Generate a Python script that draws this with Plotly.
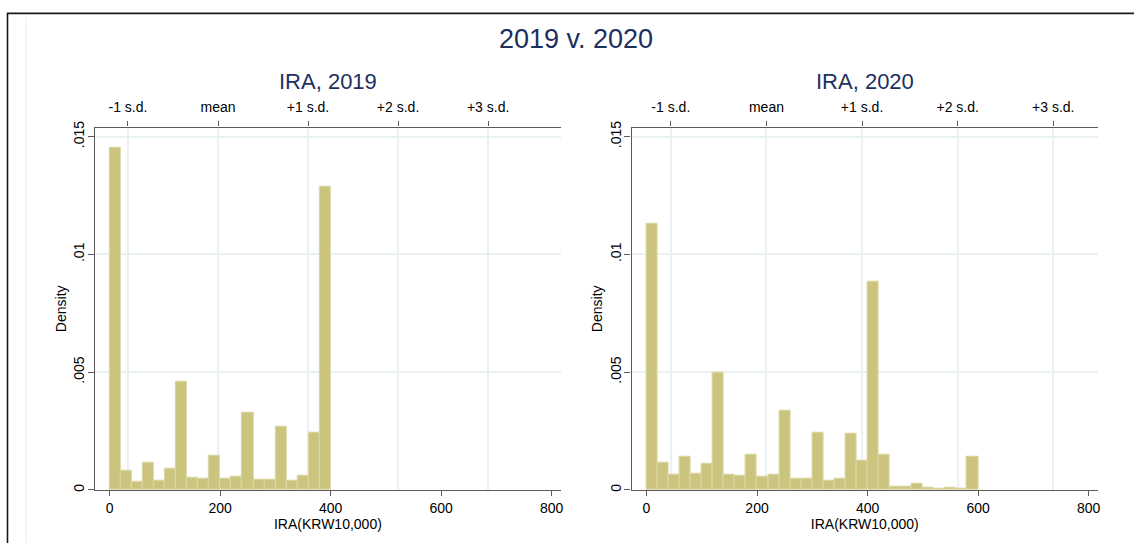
import plotly.graph_objects as go

# Histogram bins: width 20, starting at 0
bin_width = 20
density_2019 = [0.01455, 0.00082, 0.00036, 0.00116, 0.00041, 0.00091, 0.00460, 0.00053,
                0.00049, 0.00145, 0.00048, 0.00057, 0.00328, 0.00045, 0.00045, 0.00267,
                0.00041, 0.00062, 0.00242, 0.01286]
density_2020 = [0.01130, 0.00116, 0.00066, 0.00140, 0.00070, 0.00112, 0.00496, 0.00066,
                0.00062, 0.00149, 0.00057, 0.00066, 0.00337, 0.00049, 0.00049, 0.00244,
                0.00041, 0.00049, 0.00237, 0.00123, 0.00886, 0.00148, 0.00015, 0.00014,
                0.00028, 0.00011, 0.00007, 0.00010, 0.00004, 0.00140]

# Summary statistics used for the s.d. axis on top
mean_2019, sd_2019 = 196, 163
mean_2020, sd_2020 = 217, 173
sd_labels = ["-1 s.d.", "mean", "+1 s.d.", "+2 s.d.", "+3 s.d."]
sd_steps = [-1, 0, 1, 2, 3]

x_ticks = [0, 200, 400, 600, 800]
y_ticks = [0, 0.005, 0.01, 0.015]
y_ticktext = ["0", ".005", ".01", ".015"]

titles = ["IRA, 2019", "IRA, 2020"]
x_title = "IRA(KRW10,000)"

W, H = 1136, 545
FONT = "Liberation Sans, Arial, sans-serif"
BAR = "#cbc47f"
BAR_EDGE = "#dcd7a3"
GRID = "#e9f1f2"
AXIS = "#5a5a5a"
NAVY = "#1c2f5e"

x_range = [-27, 817]
y_range = [0, 0.01538]

# panel domains in pixels (left, right), shared vertical extent
panels_px = [(95, 562), (632.7, 1100)]
y_top_px, y_bot_px = 122.7, 491


def px_x(v):
    return v / W


def px_y(v):
    return 1 - v / H


fig = go.Figure()

datasets = [(density_2019, mean_2019, sd_2019), (density_2020, mean_2020, sd_2020)]
for i, (dens, mu, sd) in enumerate(datasets):
    n = i + 1
    xa = "x" if n == 1 else f"x{n}"
    ya = "y" if n == 1 else f"y{n}"
    centers = [bin_width * k + bin_width / 2 for k in range(len(dens))]
    fig.add_trace(go.Bar(
        x=centers, y=dens, width=bin_width,
        marker=dict(color=BAR, line=dict(color=BAR_EDGE, width=1)),
        xaxis=xa, yaxis=ya, showlegend=False, hoverinfo="x+y",
    ))
    # invisible trace so the top s.d. axis is drawn
    top = f"x{n + 2}"
    fig.add_trace(go.Scatter(
        x=[mu], y=[0], mode="markers", marker=dict(opacity=0),
        xaxis=top, yaxis=ya, showlegend=False, hoverinfo="skip",
    ))

    left, right = panels_px[i]
    dom_x = [px_x(left), px_x(right)]
    dom_y = [px_y(y_bot_px), px_y(y_top_px)]
    sd_pos = [mu + s * sd for s in sd_steps]

    bottom_key = "xaxis" if n == 1 else f"xaxis{n}"
    y_key = "yaxis" if n == 1 else f"yaxis{n}"
    top_key = f"xaxis{n + 2}"

    fig.layout[bottom_key] = dict(
        domain=dom_x, range=x_range, anchor=ya,
        tickvals=x_ticks, ticks="outside", ticklen=5, tickwidth=1.2, tickcolor=AXIS,
        showline=True, linecolor=AXIS, linewidth=1.4, showgrid=False, zeroline=False,
        tickfont=dict(size=14, color="black", family=FONT),
        title=dict(text=x_title, font=dict(size=14, color="black", family=FONT), standoff=1),
    )
    fig.layout[top_key] = dict(
        overlaying=xa, side="top", range=x_range, anchor=ya,
        tickvals=sd_pos, ticktext=sd_labels, ticks="outside", ticklen=5, tickwidth=1.2,
        tickcolor=AXIS, showline=True, linecolor=AXIS, linewidth=1.4,
        showgrid=True, gridcolor=GRID, gridwidth=1.5, zeroline=False,
        ticklabelstandoff=4,
        tickfont=dict(size=14, color="black", family=FONT),
    )
    fig.layout[y_key] = dict(
        domain=dom_y, range=y_range, anchor=xa,
        tickvals=y_ticks, ticktext=y_ticktext, tickangle=-90,
        ticks="outside", ticklen=6, tickwidth=1.2, tickcolor=AXIS,
        showline=True, linecolor=AXIS, linewidth=1.4,
        showgrid=True, gridcolor=GRID, gridwidth=1.5, zeroline=False,
        ticklabelstandoff=-2,
        tickfont=dict(size=14, color="black", family=FONT),
        title=dict(text="Density", font=dict(size=14, color="black", family=FONT), standoff=1),
    )

    # panel subtitle
    fig.add_annotation(
        x=(dom_x[0] + dom_x[1]) / 2, y=px_y(76), xref="paper", yref="paper",
        text=titles[i], showarrow=False, xanchor="center", yanchor="middle",
        font=dict(size=22, color=NAVY, family=FONT),
    )

# overall title
fig.add_annotation(
    x=px_x(577), y=px_y(33), xref="paper", yref="paper",
    text="2019 v. 2020", showarrow=False, xanchor="center", yanchor="middle",
    font=dict(size=27, color=NAVY, family=FONT),
)

# outer frame lines
fig.add_shape(type="line", xref="paper", yref="paper",
              x0=px_x(7), x1=1, y0=px_y(6.5), y1=px_y(6.5),
              line=dict(color="#1a1a1a", width=1.6))
fig.add_shape(type="line", xref="paper", yref="paper",
              x0=px_x(7.5), x1=px_x(7.5), y0=px_y(6), y1=0,
              line=dict(color="#1a1a1a", width=1.6))
fig.add_shape(type="line", xref="paper", yref="paper",
              x0=px_x(26), x1=px_x(26), y0=px_y(11), y1=0,
              line=dict(color="#ececec", width=1))

fig.update_layout(
    width=W, height=H, margin=dict(l=0, r=0, t=0, b=0),
    paper_bgcolor="white", plot_bgcolor="white",
    bargap=0, font=dict(family=FONT, color="black"),
)

fig.write_html("out.html")
